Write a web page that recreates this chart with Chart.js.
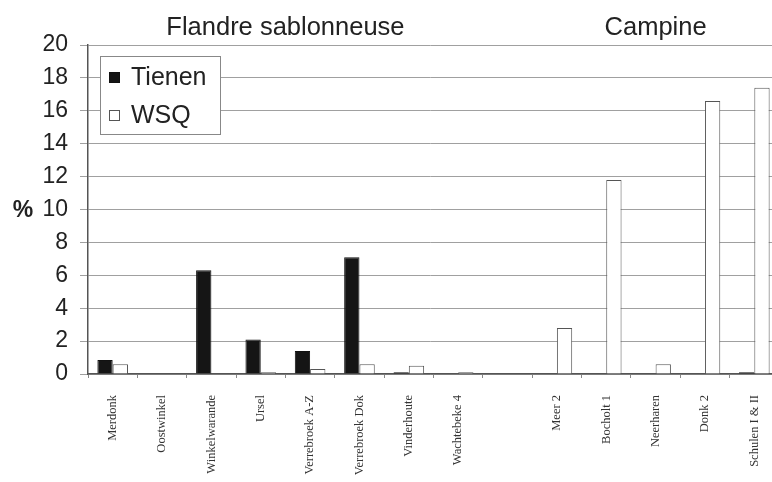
<!DOCTYPE html>
<html>
<head>
<meta charset="utf-8">
<script src="https://cdn.jsdelivr.net/npm/chart.js@4/dist/chart.umd.min.js"></script>
<style>
  html, body { margin: 0; padding: 0; background: #fff; }
  #wrap { width: 772px; height: 482px; }
</style>
</head>
<body>
<div id="wrap"><canvas id="chart"></canvas></div>
<script>
// sites, gap (empty slot) between the two regions
const sites = ["Merdonk", "Oostwinkel", "Winkelwarande", "Ursel", "Verrebroek A-Z",
  "Verrebroek Dok", "Vinderhoute", "Wachtebeke 4", "", "Meer 2", "Bocholt 1",
  "Neerharen", "Donk 2", "Schulen I & II"];
const tienen = [0.85, 0, 6.3, 2.1, 1.4, 7.1, 0.1, 0, null, 0, 0, 0, 0, 0.1];
const wsq = [0.6, 0, 0, 0.1, 0.3, 0.6, 0.5, 0.1, null, 2.8, 11.8, 0.6, 16.6, 17.4];
const yTicks = [0, 2, 4, 6, 8, 10, 12, 14, 16, 18, 20];
const regions = [
  { name: "Flandre sablonneuse", from: 0, to: 7 },
  { name: "Campine", from: 9, to: 13 }
];

// the original plot runs a little past the right edge of the picture
const overhang = {
  id: "overhang",
  afterLayout(chart) {
    const x = chart.scales.x;
    x.right = chart.width + 7;
    x.width = x.right - x.left;
    x.configure();
    chart.chartArea.right = x.right;
    chart.chartArea.width = x.width;
  }
};

const decor = {
  id: "decor",
  afterDraw(chart) {
    const ctx = chart.ctx;
    const x = chart.scales.x;
    const area = chart.chartArea;
    ctx.save();
    ctx.fillStyle = "#222";
    ctx.textAlign = "center";
    ctx.textBaseline = "middle";
    ctx.font = "25.5px 'Liberation Sans', Arial, sans-serif";
    regions.forEach(r => {
      const cx = (x.getPixelForValue(r.from) + x.getPixelForValue(r.to)) / 2;
      ctx.fillText(r.name, cx, 28);
    });
    ctx.font = "bold 23px 'Liberation Sans', Arial, sans-serif";
    ctx.fillText("%", 23, 211);

    // legend box inside the plot
    const lx = area.left + 12, ly = area.top + 11;
    ctx.fillStyle = "#fff";
    ctx.fillRect(lx, ly, 120, 78);
    ctx.strokeStyle = "#888";
    ctx.lineWidth = 1;
    ctx.strokeRect(lx + 0.5, ly + 0.5, 120, 78);
    ctx.textAlign = "left";
    ctx.font = "25px 'Liberation Sans', Arial, sans-serif";
    chart.data.datasets.forEach((ds, i) => {
      const cy = ly + 21 + i * 38;
      ctx.fillStyle = ds.backgroundColor;
      ctx.fillRect(lx + 9, cy - 5, 11, 11);
      ctx.strokeStyle = ds.borderColor;
      ctx.strokeRect(lx + 9.5, cy - 4.5, 10, 10);
      ctx.fillStyle = "#222";
      ctx.fillText(ds.label, lx + 31, cy + 1);
    });
    ctx.restore();
  }
};

new Chart(document.getElementById("chart"), {
  type: "bar",
  data: {
    labels: sites,
    datasets: [
      { label: "Tienen", data: tienen, backgroundColor: "#151515", borderColor: "#111", borderWidth: 1 },
      { label: "WSQ", data: wsq, backgroundColor: "#ffffff", borderColor: "#555", borderWidth: 1 }
    ]
  },
  options: {
    responsive: true,
    maintainAspectRatio: false,
    animation: false,
    layout: { padding: { top: 45, right: 0, left: 0, bottom: 0 } },
    datasets: { bar: { categoryPercentage: 0.62, barPercentage: 1 } },
    plugins: { legend: { display: false }, tooltip: { enabled: false } },
    scales: {
      x: {
        offset: true,
        grid: { offset: true, drawOnChartArea: false, tickLength: 4, color: "#888" },
        border: { color: "#555", width: 1.5 },
        ticks: {
          autoSkip: false, minRotation: 90, maxRotation: 90, padding: 17,
          color: "#333", font: { family: "'Liberation Serif', serif", size: 12.5 }
        },
        afterFit(scale) { scale.height = 108; }
      },
      y: {
        min: 0, max: 20,
        afterBuildTicks(scale) { scale.ticks = yTicks.map(v => ({ value: v })); },
        grid: { color: "#a0a0a0", tickLength: 8, lineWidth: 1 },
        border: { color: "#555", width: 1.5 },
        ticks: {
          padding: 12, color: "#222",
          font: { family: "'Liberation Sans', Arial, sans-serif", size: 23 }
        },
        afterFit(scale) { scale.width = 88; }
      }
    }
  },
  plugins: [overhang, decor]
});
</script>
</body>
</html>
